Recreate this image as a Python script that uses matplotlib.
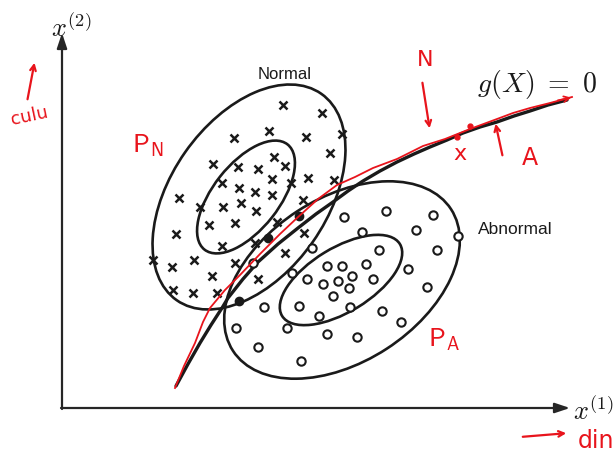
import matplotlib

matplotlib.use("Agg")
import matplotlib.pyplot as plt
from matplotlib.patches import Ellipse

plt.rcParams["mathtext.fontset"] = "cm"

# sample positions in the (x1, x2) plane, screen units
normal_x = [283, 322, 269, 234, 306, 342, 330, 274, 213, 238, 258, 285, 272, 222,
            291, 308, 334, 239, 255, 272, 179, 200, 223, 241, 256, 303, 209, 235,
            277, 176, 304, 222, 255, 285, 153, 172, 194, 235, 212, 258, 173, 193, 217]
normal_y = [105, 113, 131, 138, 137, 134, 153, 157, 164, 167, 169, 166, 179, 183,
            183, 178, 180, 188, 192, 195, 198, 207, 207, 203, 211, 200, 225, 223,
            222, 234, 233, 246, 243, 253, 260, 267, 260, 263, 276, 279, 290, 293, 293]

abnormal_x = [344, 386, 433, 416, 362, 458, 312, 379, 437, 253, 327, 342, 366, 408,
              292, 307, 352, 373, 323, 338, 349, 427, 333, 264, 299, 350, 382, 319,
              401, 236, 287, 327, 357, 258, 301]
abnormal_y = [217, 211, 215, 230, 232, 236, 248, 250, 250, 263, 266, 266, 264, 269,
              273, 279, 276, 279, 284, 281, 288, 287, 296, 307, 306, 307, 311, 316,
              322, 328, 328, 334, 337, 347, 361]

# points on the boundary
dots_x = [239, 268, 299]
dots_y = [301, 238, 216]

# density contours: centre x, centre y, semi-major, semi-minor, tilt (deg)
contours = [
    (249, 197, 126, 78, 55.0),
    (246, 197, 67, 33, 51.7),
    (342, 280, 130, 82, 33.0),
    (341, 280, 69, 32, 31.4),
]

# decision boundary g(X) = 0
bound_x = [176, 188, 200, 211, 222, 228, 243, 258, 278, 298, 316, 333, 348, 363,
           380, 397, 414, 430, 447, 463, 480, 497, 514, 530, 548, 567]
bound_y = [386, 364, 343, 325, 308, 298, 279, 262, 244, 228, 214, 202, 191, 181,
           171, 162, 154, 147, 140, 133, 127, 122, 116, 111, 105, 100]

# hand-drawn boundary on top
pen_x = [175, 184, 195, 203, 210, 225, 240, 260, 280, 297, 318, 337, 355, 373,
         397, 423, 445, 470, 497, 513, 530, 550, 572]
pen_y = [388, 366, 343, 322, 308, 290, 275, 254, 234, 218, 199, 185, 177, 168,
         159, 146, 139, 129, 119, 113, 108, 103, 97]

ink = "#1a1a1a"
pen = "#e8141c"

fig = plt.figure(figsize=(6.13, 4.53), dpi=100)
ax = fig.add_axes([0, 0, 1, 1])
ax.set_xlim(0, 613)
ax.set_ylim(453, 0)
ax.axis("off")

# axes with arrow heads
ax.annotate("", xy=(62, 33), xytext=(62, 409),
            arrowprops=dict(arrowstyle="-|>,head_length=0.9,head_width=0.3",
                            color="#262626", lw=1.6, shrinkA=0, shrinkB=0))
ax.annotate("", xy=(570, 408), xytext=(61, 408),
            arrowprops=dict(arrowstyle="-|>,head_length=0.9,head_width=0.3",
                            color="#262626", lw=1.6, shrinkA=0, shrinkB=0))
ax.text(51, 37, r"$x^{(2)}$", fontsize=19, color=ink, ha="left", va="baseline")
ax.text(573, 420, r"$x^{(1)}$", fontsize=19, color=ink, ha="left", va="baseline")

for cx, cy, a, b, tilt in contours:
    ax.add_patch(Ellipse((cx, cy), 2 * a, 2 * b, angle=-tilt, fill=False,
                         edgecolor=ink, lw=1.9))

ax.plot(bound_x, bound_y, color=ink, lw=2.4, solid_capstyle="round",
        solid_joinstyle="round")

ax.plot(normal_x, normal_y, linestyle="none", marker="x", markersize=6,
        markeredgewidth=1.8, color=ink)
ax.plot(abnormal_x, abnormal_y, linestyle="none", marker="o", markersize=6,
        markerfacecolor="white", markeredgewidth=1.5, markeredgecolor=ink)
ax.plot(dots_x, dots_y, linestyle="none", marker="o", markersize=6, color=ink)

ax.text(285, 79, "Normal", fontsize=12, family="Liberation Sans", color=ink,
        ha="center", va="baseline")
ax.text(515, 234, "Abnormal", fontsize=12.5, family="Liberation Sans", color=ink,
        ha="center", va="baseline")
ax.text(477, 92, r"$g(X)\ =\ 0$", fontsize=20, color=ink, ha="left",
        va="baseline")

# red pen annotations
ax.plot(pen_x, pen_y, color=pen, lw=1.3)
ax.annotate("", xy=(574, 97), xytext=(555, 101),
            arrowprops=dict(arrowstyle="->", color=pen, lw=1.3))
ax.annotate("", xy=(430, 131), xytext=(422, 80),
            arrowprops=dict(arrowstyle="->", color=pen, lw=1.6))
ax.annotate("", xy=(495, 121), xytext=(503, 158),
            arrowprops=dict(arrowstyle="->", color=pen, lw=1.6))
ax.annotate("", xy=(35, 60), xytext=(27, 102),
            arrowprops=dict(arrowstyle="->", color=pen, lw=1.6))
ax.annotate("", xy=(569, 433), xytext=(520, 437),
            arrowprops=dict(arrowstyle="->", color=pen, lw=1.6))
ax.plot([457, 470], [137, 126], linestyle="none", marker="o", markersize=3.5,
        color=pen)

ax.text(425, 66, "N", fontsize=16, color=pen, ha="center", va="baseline")
ax.text(460, 160, "x", fontsize=16, color=pen, ha="center", va="baseline")
ax.text(530, 165, "A", fontsize=17, color=pen, ha="center", va="baseline")
ax.text(148, 152, r"$\mathsf{P_N}$", fontsize=19, color=pen, ha="center",
        va="baseline")
ax.text(444, 346, r"$\mathsf{P_A}$", fontsize=19, color=pen, ha="center",
        va="baseline")
ax.text(29, 125, "culu", fontsize=13, color=pen, ha="center", va="baseline",
        rotation=12)
ax.text(596, 448, "din", fontsize=17, color=pen, ha="center", va="baseline")

fig.savefig("out.png", dpi=100, facecolor="white")
plt.close(fig)
